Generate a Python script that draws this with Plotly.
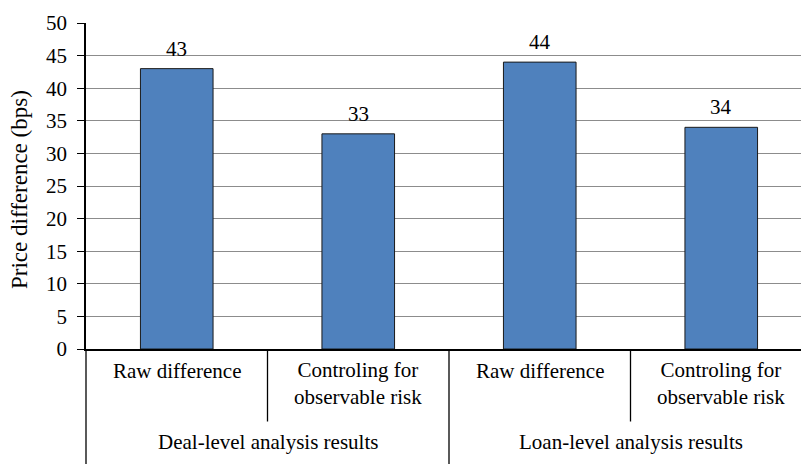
import plotly.graph_objects as go

# Chart data
groups = ["Deal-level analysis results", "Loan-level analysis results"]
categories = ["Raw difference", "Controling for<br>observable risk",
              "Raw difference", "Controling for<br>observable risk"]
category_group = [0, 0, 1, 1]
values = [43, 33, 44, 34]
y_ticks = [0, 5, 10, 15, 20, 25, 30, 35, 40, 45, 50]

FONT = "Liberation Serif"
FS = 21
FS_TITLE = 23
W, H = 801, 464
ML, MT, MB = 86, 23, 115
PLOT_W = W - ML
PLOT_H = H - MT - MB
CAT_PX = 181.5            # width of one category slot in pixels
X0 = -0.5
X1 = X0 + PLOT_W / CAT_PX

xs = list(range(len(values)))


def xpaper(v):
    return (v - X0) / (X1 - X0)


def ypaper(px):
    # pixel row (from top of the figure) -> paper coordinate of the plot area
    return (H - MB - px) / PLOT_H


def txt(size=FS):
    return dict(family=FONT, size=size, color="black")


fig = go.Figure()
fig.add_trace(go.Bar(
    x=xs, y=values, width=0.4,
    marker=dict(color="#4F81BD", line=dict(color="#1a1a1a", width=1)),
    hoverinfo="skip", showlegend=False,
))

annotations = []
# value labels above bars
for x, v in zip(xs, values):
    annotations.append(dict(x=x, y=v, xref="x", yref="y", text=str(v),
                            showarrow=False, yanchor="bottom", yshift=6, font=txt()))
# category labels (first line aligned across categories)
for x, c in zip(xs, categories):
    n_lines = c.count("<br>") + 1
    centre = 370.5 + (n_lines - 1) * 12.5
    annotations.append(dict(x=xpaper(x), y=ypaper(centre), xref="paper", yref="paper",
                            text=c, showarrow=False, yanchor="middle", xanchor="center",
                            font=txt()))
# group labels
for gi, g in enumerate(groups):
    members = [x for x, cg in zip(xs, category_group) if cg == gi]
    mid = (members[0] + members[-1]) / 2
    annotations.append(dict(x=xpaper(mid), y=ypaper(441.5), xref="paper", yref="paper",
                            text=g, showarrow=False, yanchor="middle", xanchor="center",
                            font=txt()))
# y axis title
annotations.append(dict(x=(20 - ML) / PLOT_W, y=ypaper(190), xref="paper", yref="paper",
                        text="Price difference (bps)", textangle=-90, showarrow=False,
                        xanchor="center", yanchor="middle", font=txt(FS_TITLE)))

shapes = []
# separators between categories inside a group (short) and between groups (long)
for i in range(len(xs) + 1):
    b = i - 0.5
    left = category_group[i - 1] if i > 0 else None
    right = category_group[i] if i < len(xs) else None
    long_line = left != right
    y_end = ypaper(H) if long_line else ypaper(421.5)
    shapes.append(dict(type="line", xref="paper", yref="paper",
                       x0=xpaper(b), x1=xpaper(b), y0=0, y1=y_end,
                       line=dict(color="black", width=1.3)))

fig.update_layout(
    width=W, height=H,
    margin=dict(l=ML, r=0, t=MT, b=MB),
    paper_bgcolor="white", plot_bgcolor="white",
    bargap=0.6,
    annotations=annotations,
    shapes=shapes,
    xaxis=dict(range=[X0, X1], showticklabels=False, ticks="", showgrid=False,
               zeroline=False, showline=True, linecolor="black", linewidth=1.5),
    yaxis=dict(range=[0, 50], tickvals=y_ticks, ticks="outside", ticklen=7,
               tickcolor="black", tickwidth=1.3, showline=True, linecolor="black",
               linewidth=1.5, showgrid=True, gridcolor="#8c8c8c", gridwidth=1,
               zeroline=False, ticklabelstandoff=6, tickfont=txt()),
)

fig.write_html("out.html")
